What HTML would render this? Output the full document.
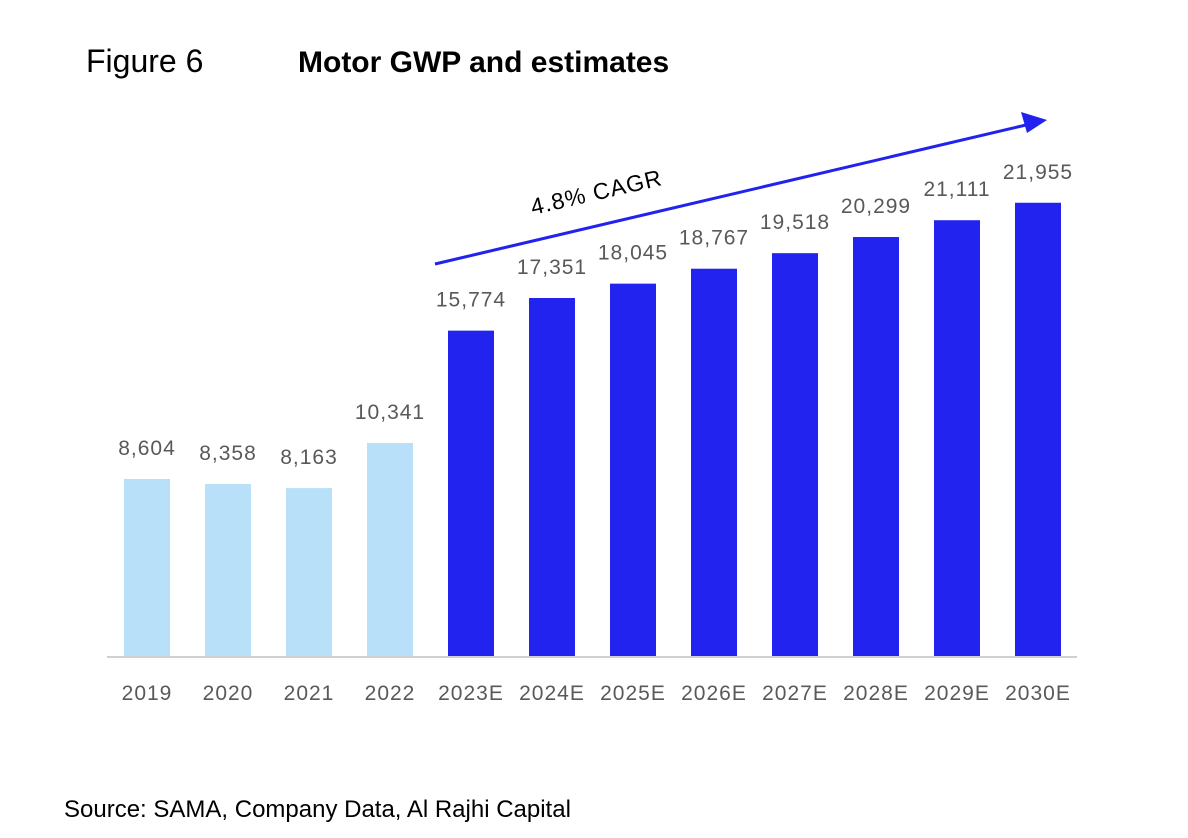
<!DOCTYPE html>
<html><head><meta charset="utf-8"><style>
body{margin:0;background:#fff;}
svg{display:block;font-family:"Liberation Sans",sans-serif;}
</style></head><body>
<svg id="chart" width="1188" height="838" viewBox="0 0 1188 838">
<text x="86" y="72" font-size="32" fill="#000">Figure 6</text>
<text x="298" y="72" font-size="30" font-weight="bold" fill="#000">Motor GWP and estimates</text>
<g id="bars"></g>
<line x1="107" y1="657" x2="1077" y2="657" stroke="#d0d0d0" stroke-width="2"/>
<line x1="435" y1="264" x2="1026" y2="125" stroke="#2222ee" stroke-width="3"/>
<polygon points="1047,120 1021,112 1027,133" fill="#2222ee"/>
<text x="597" y="200" font-size="23" fill="#000" text-anchor="middle" letter-spacing="1" transform="rotate(-13 597 195)">4.8% CAGR</text>
<text x="64" y="817" font-size="24" fill="#000">Source: SAMA, Company Data, Al Rajhi Capital</text>
</svg>
<script>
const categories=["2019","2020","2021","2022","2023E","2024E","2025E","2026E","2027E","2028E","2029E","2030E"];
const values=[8604,8358,8163,10341,15774,17351,18045,18767,19518,20299,21111,21955];
const labels=["8,604","8,358","8,163","10,341","15,774","17,351","18,045","18,767","19,518","20,299","21,111","21,955"];
const estimated=[false,false,false,false,true,true,true,true,true,true,true,true];
const NS="http://www.w3.org/2000/svg";
const g=document.getElementById("bars");
const base=657, scaleY=v=>base-v*0.02069;
const xC=i=>147+i*81.0, bw=46;
categories.forEach((c,i)=>{
  const r=document.createElementNS(NS,"rect");
  r.setAttribute("x",xC(i)-bw/2);r.setAttribute("y",scaleY(values[i]));
  r.setAttribute("width",bw);r.setAttribute("height",base-scaleY(values[i]));
  r.setAttribute("fill",estimated[i]?"#2323f0":"#b8e0f8");
  
  
  g.appendChild(r);
  const t=document.createElementNS(NS,"text");
  t.setAttribute("x",xC(i));t.setAttribute("y",scaleY(values[i])-24);
  t.setAttribute("text-anchor","middle");t.setAttribute("font-size","21");t.setAttribute("fill","#595959");
  t.setAttribute("letter-spacing","1");
  t.textContent=labels[i];
  
  
  g.appendChild(t);
  const x=document.createElementNS(NS,"text");
  x.setAttribute("x",xC(i));x.setAttribute("y",700);
  x.setAttribute("text-anchor","middle");x.setAttribute("font-size","21");x.setAttribute("fill","#595959");
  x.setAttribute("letter-spacing","1");
  x.textContent=c;
  
  
  g.appendChild(x);
});
</script>
</body></html>
